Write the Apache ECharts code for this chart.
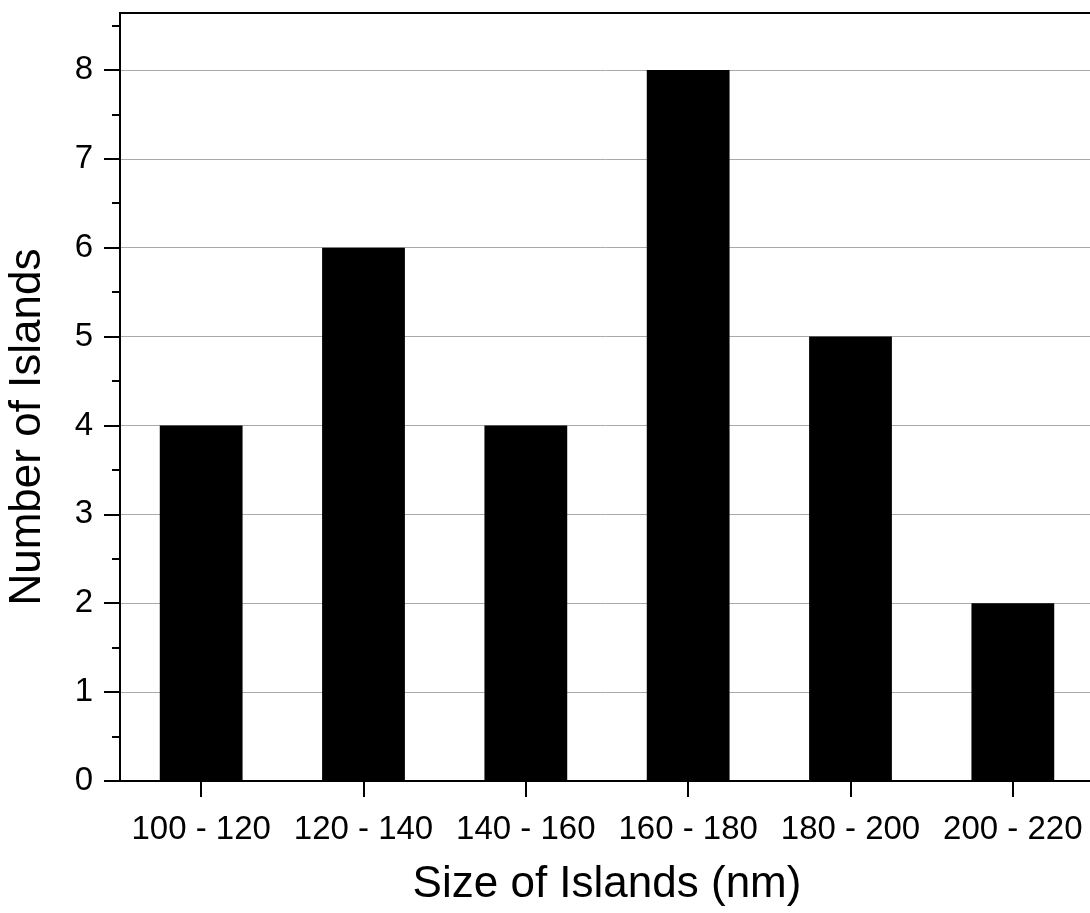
<!DOCTYPE html>
<html>
<head>
<meta charset="utf-8">
<script src="https://cdn.jsdelivr.net/npm/echarts@6/dist/echarts.min.js"></script>
<style>
html,body{margin:0;padding:0;background:#fff;}
#c{width:1090px;height:913px;}
</style>
</head>
<body>
<div id="c"></div>
<script>
const categories = ['100 - 120', '120 - 140', '140 - 160', '160 - 180', '180 - 200', '200 - 220'];
const counts = [4, 6, 4, 8, 5, 2];
const majorTicks = [0, 1, 2, 3, 4, 5, 6, 7, 8];
const minorTicks = [0.5, 1.5, 2.5, 3.5, 4.5, 5.5, 6.5, 7.5, 8.5];
const yMax = 8.64;

const font = 'Liberation Sans, Arial, sans-serif';
const chart = echarts.init(document.getElementById('c'), null, {renderer: 'canvas'});
chart.setOption({
  animation: false,
  backgroundColor: '#ffffff',
  grid: {
    left: 120, top: 13, right: -4, bottom: 132,
    containLabel: false,
    outerBoundsMode: 'none',
    show: true, borderColor: '#000', borderWidth: 2, backgroundColor: 'transparent'
  },
  xAxis: {
    type: 'category',
    data: categories,
    boundaryGap: true,
    name: 'Size of Islands (nm)',
    nameLocation: 'middle',
    nameGap: 82,
    nameTextStyle: {fontFamily: font, fontSize: 44, color: '#000'},
    axisLine: {show: true, lineStyle: {color: '#000', width: 2}},
    axisTick: {show: true, alignWithLabel: true, length: 16, inside: false, lineStyle: {color: '#000', width: 2}},
    axisLabel: {fontFamily: font, fontSize: 33, color: '#000', margin: 32, interval: 0},
    splitLine: {show: false}
  },
  yAxis: [{
    type: 'value',
    min: 0, max: yMax, interval: 1,
    name: 'Number of Islands',
    nameLocation: 'middle',
    nameGap: 70,
    nameTextStyle: {fontFamily: font, fontSize: 44, color: '#000', padding: [0, 60, 0, 0]},
    axisLine: {show: true, lineStyle: {color: '#000', width: 2}},
    axisTick: {show: true, length: 16, inside: false, customValues: majorTicks, lineStyle: {color: '#000', width: 2}},
    axisLabel: {fontFamily: font, fontSize: 33, color: '#000', margin: 27, customValues: majorTicks},
    splitLine: {show: true, lineStyle: {color: '#aaaaaa', width: 1}}
  }, {
    type: 'value',
    min: 0, max: yMax, interval: 0.5,
    position: 'left',
    axisLine: {show: false},
    axisTick: {show: true, length: 8, inside: false, customValues: minorTicks, lineStyle: {color: '#000', width: 2}},
    axisLabel: {show: false},
    splitLine: {show: false}
  }],
  series: [{
    type: 'bar',
    data: counts,
    yAxisIndex: 0,
    barWidth: '51%',
    itemStyle: {color: '#000'},
    z: 1
  }]
});
</script>
</body>
</html>
